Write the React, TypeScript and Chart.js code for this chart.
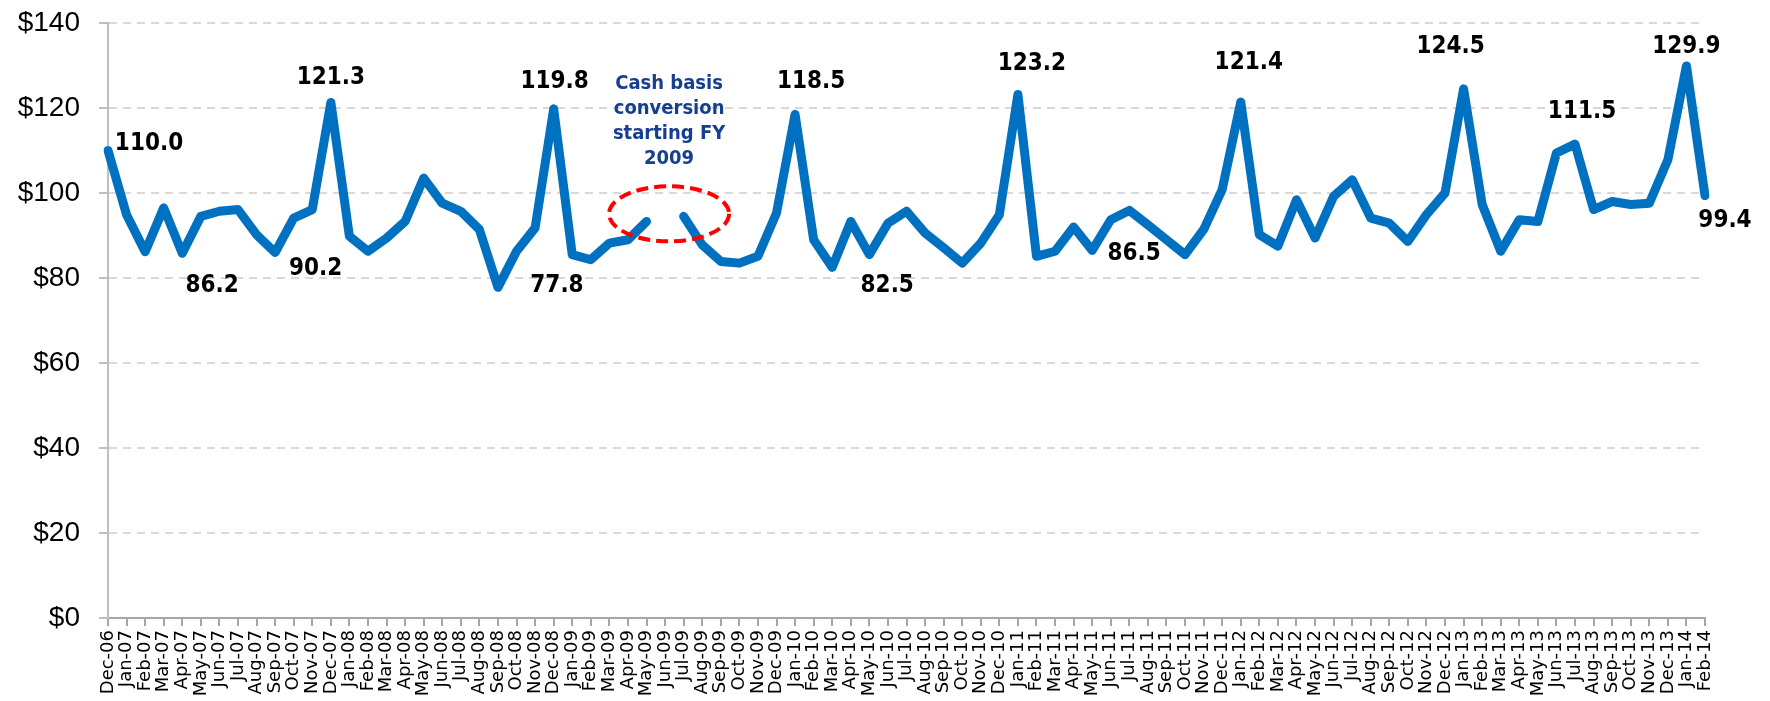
import React, { useEffect, useRef } from "react";
import { Chart, registerables } from "chart.js";

Chart.register(...registerables);

// ---- data ----
const MONTHS: string[] = [
  "Dec-06",
  "Jan-07", "Feb-07", "Mar-07", "Apr-07", "May-07", "Jun-07", "Jul-07", "Aug-07", "Sep-07", "Oct-07", "Nov-07", "Dec-07",
  "Jan-08", "Feb-08", "Mar-08", "Apr-08", "May-08", "Jun-08", "Jul-08", "Aug-08", "Sep-08", "Oct-08", "Nov-08", "Dec-08",
  "Jan-09", "Feb-09", "Mar-09", "Apr-09", "May-09", "Jun-09", "Jul-09", "Aug-09", "Sep-09", "Oct-09", "Nov-09", "Dec-09",
  "Jan-10", "Feb-10", "Mar-10", "Apr-10", "May-10", "Jun-10", "Jul-10", "Aug-10", "Sep-10", "Oct-10", "Nov-10", "Dec-10",
  "Jan-11", "Feb-11", "Mar-11", "Apr-11", "May-11", "Jun-11", "Jul-11", "Aug-11", "Sep-11", "Oct-11", "Nov-11", "Dec-11",
  "Jan-12", "Feb-12", "Mar-12", "Apr-12", "May-12", "Jun-12", "Jul-12", "Aug-12", "Sep-12", "Oct-12", "Nov-12", "Dec-12",
  "Jan-13", "Feb-13", "Mar-13", "Apr-13", "May-13", "Jun-13", "Jul-13", "Aug-13", "Sep-13", "Oct-13", "Nov-13", "Dec-13",
  "Jan-14", "Feb-14",
];

const VALUES: (number | null)[] = [
  110.0,
  94.9, 86.2, 96.5, 85.8, 94.5, 95.7, 96.1, 90.2, 86.0, 94.1, 96.1, 121.3,
  89.8, 86.3, 89.4, 93.3, 103.5, 97.6, 95.7, 91.4, 77.8, 86.3, 91.8, 119.8,
  85.5, 84.3, 88.2, 89.0, 93.3, null, 94.5, 87.8, 83.9, 83.5, 85.1, 95.3,
  118.5, 89.0, 82.5, 93.3, 85.5, 92.9, 95.7, 90.6, 87.1, 83.5, 88.2, 94.9,
  123.2, 85.1, 86.3, 92.0, 86.5, 93.7, 95.9, 92.5, 89.0, 85.5, 91.4, 100.8,
  121.4, 90.2, 87.5, 98.4, 89.4, 99.2, 103.1, 94.1, 92.9, 88.6, 94.9, 100.0,
  124.5, 97.3, 86.3, 93.7, 93.3, 109.4, 111.5, 96.1, 98.0, 97.3, 97.6, 107.8,
  129.9, 99.4,
];

const Y_MIN = 0;
const Y_MAX = 140;
const Y_STEP = 20;

// indices of the points that carry a value label
const LABELED_POINTS: number[] = [0, 2, 8, 12, 21, 24, 37, 39, 49, 53, 61, 73, 79, 85, 86];

// the month with no data (conversion gap) and the note around it
const GAP_INDEX = 30;
const GAP_LEVEL = 95.1;
const NOTE_LINES: string[] = ["Cash basis", "conversion", "starting FY", "2009"];

// ---- placement of the labels (pixel offsets from their point) ----
const LABEL_OFFSETS: [number, number][] = [
  [41, -7],
  [67, 34],
  [59, 34],
  [0, -25],
  [59, -2],
  [1, -27],
  [16, -33],
  [55, 18],
  [14, -31],
  [42, 3],
  [8, -39],
  [-13, -42],
  [7, -32],
  [0, -19],
  [20, 25],
];

const LINE_COLOR = "#0070C0";
const NOTE_COLOR = "#173F8F";

const annotationPlugin = {
  id: "customAnnotations",
  afterDatasetsDraw(chart: any) {
    const { ctx } = chart;
    const xs = chart.scales.x;
    const ys = chart.scales.y;
    ctx.save();

    // dashed red ellipse around the gap
    const ex = xs.getPixelForValue(GAP_INDEX) + 4;
    const ey = ys.getPixelForValue(GAP_LEVEL);
    ctx.beginPath();
    ctx.ellipse(ex, ey, 60, 27.5, 0, 0, Math.PI * 2);
    ctx.setLineDash([12, 6]);
    ctx.lineWidth = 4;
    ctx.strokeStyle = "#FF0000";
    ctx.stroke();
    ctx.setLineDash([]);

    // note text
    ctx.fillStyle = NOTE_COLOR;
    ctx.font = 'bold 20px "DejaVu Sans Condensed", "DejaVu Sans", sans-serif';
    ctx.textAlign = "center";
    ctx.textBaseline = "middle";
    NOTE_LINES.forEach((t, i) => {
      ctx.fillText(t, ex, ey - 130 + i * 25);
    });

    // value labels
    ctx.fillStyle = "#000000";
    ctx.font = 'bold 24px "DejaVu Sans Condensed", "DejaVu Sans", sans-serif';
    LABELED_POINTS.forEach((idx, k) => {
      const v = VALUES[idx];
      if (v == null) return;
      const [dx, dy] = LABEL_OFFSETS[k];
      ctx.fillText(v.toFixed(1), xs.getPixelForValue(idx) + dx, ys.getPixelForValue(v) + dy);
    });

    ctx.restore();
  },
};

export default function App() {
  const canvasRef = useRef<HTMLCanvasElement | null>(null);

  useEffect(() => {
    if (!canvasRef.current) return;
    const chart = new Chart(canvasRef.current, {
      type: "line",
      data: {
        labels: MONTHS,
        datasets: [
          {
            data: VALUES,
            borderColor: LINE_COLOR,
            backgroundColor: LINE_COLOR,
            borderWidth: 9,
            pointRadius: 0,
            pointHoverRadius: 0,
            tension: 0,
            spanGaps: false,
            borderJoinStyle: "round",
            borderCapStyle: "round",
            fill: false,
          },
        ],
      },
      options: {
        responsive: false,
        animation: false,
        layout: { padding: { top: 23, right: 65, bottom: 0, left: 0 } },
        plugins: {
          legend: { display: false },
          tooltip: { enabled: false },
          title: { display: false },
        },
        scales: {
          x: {
            type: "category",
            offset: false,
            grid: {
              drawOnChartArea: false,
              drawTicks: true,
              tickLength: 8,
              color: "#A6A6A6",
              lineWidth: 2,
            },
            border: { display: true, color: "#A6A6A6", width: 2 },
            ticks: {
              autoSkip: false,
              minRotation: 90,
              maxRotation: 90,
              padding: 4,
              color: "#000000",
              font: { family: '"DejaVu Sans", sans-serif', size: 18 },
            },
            afterFit(scale: any) {
              scale.height = 83;
              scale.paddingLeft = 0;
              scale.paddingRight = 0;
              scale.paddingTop = 0;
              scale.paddingBottom = 0;
            },
          },
          y: {
            min: Y_MIN,
            max: Y_MAX,
            ticks: {
              stepSize: Y_STEP,
              padding: 19,
              color: "#000000",
              font: { family: '"Liberation Sans", Arial, sans-serif', size: 28 },
              callback: (v: any) => "$" + v,
            },
            grid: {
              color: (c: any) => (c.tick && c.tick.value === 0 ? "rgba(0,0,0,0)" : "#D9D9D9"),
              lineWidth: 2,
              tickLength: 9,
              tickColor: "#BFBFBF",
              tickBorderDash: [],
            },
            border: { display: true, color: "#BFBFBF", width: 2, dash: [8, 6] },
            afterFit(scale: any) {
              scale.width = 108;
              scale.paddingTop = 0;
              scale.paddingBottom = 0;
              scale.paddingLeft = 0;
              scale.paddingRight = 0;
            },
          },
        },
      },
      plugins: [annotationPlugin],
    });
    return () => chart.destroy();
  }, []);

  return (
    <div style={{ position: "absolute", left: 0, top: 0, width: 1770, height: 701, background: "#ffffff" }}>
      <canvas ref={canvasRef} width={1770} height={701} style={{ display: "block" }} />
    </div>
  );
}
